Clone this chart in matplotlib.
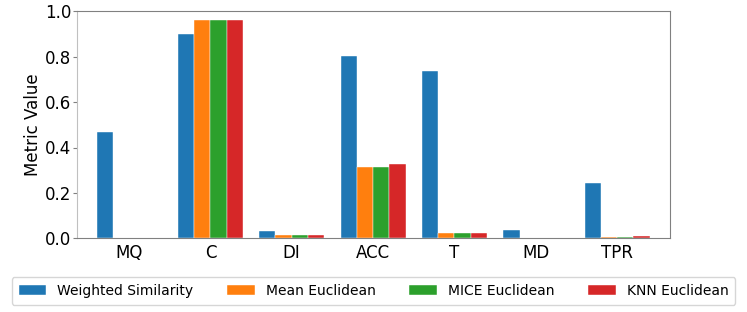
import matplotlib
matplotlib.use("Agg")
import matplotlib.pyplot as plt
import numpy as np

categories = ["MQ", "C", "DI", "ACC", "T", "MD", "TPR"]
series_names = ["Weighted Similarity", "Mean Euclidean", "MICE Euclidean", "KNN Euclidean"]
weighted_similarity = [0.467, 0.900, 0.031, 0.802, 0.737, 0.035, 0.245]
mean_euclidean = [0.0, 0.960, 0.013, 0.313, 0.022, 0.0, 0.006]
mice_euclidean = [0.0, 0.960, 0.013, 0.313, 0.022, 0.0, 0.006]
knn_euclidean = [0.0, 0.960, 0.013, 0.329, 0.023, 0.0, 0.009]
colors = ["#1f77b4", "#ff7f0e", "#2ca02c", "#d62728"]

fig = plt.figure(figsize=(7.47, 3.12), dpi=100)
ax = fig.add_axes([77/747, 1 - 238.3/312, (670-77)/747, (238.3-11.3)/312])

x = np.arange(len(categories))
w = 0.2
all_series = [weighted_similarity, mean_euclidean, mice_euclidean, knn_euclidean]
offsets = [-0.3, -0.1, 0.1, 0.3]
for vals, name, c, off in zip(all_series, series_names, colors, offsets):
    ax.bar(x + off, vals, width=w, color=c, label=name, edgecolor="white", linewidth=0.3)

ax.set_xticks(x)
ax.set_xticklabels(categories, fontsize=12)
ax.set_xlim(-0.64, 6.65)
ax.set_ylim(0, 1.0)
ax.set_yticks([0.0, 0.2, 0.4, 0.6, 0.8, 1.0])
ax.set_yticklabels(["0.0", "0.2", "0.4", "0.6", "0.8", "1.0"], fontsize=12)
ax.set_ylabel("Metric Value", fontsize=12, labelpad=2)
for s in ax.spines.values():
    s.set_color("#808080")
ax.spines["left"].set_color("#c0c0c0")
ax.tick_params(axis="x", length=0, pad=4)
ax.tick_params(axis="y", length=3, pad=1, color="#808080")

fig.legend(loc="lower center", ncol=4, fontsize=10, bbox_to_anchor=(0.5, 0.0),
           frameon=True, columnspacing=2.4, handlelength=2.0, handletextpad=0.8,
           borderpad=0.5)

fig.savefig("out.png", dpi=100)
